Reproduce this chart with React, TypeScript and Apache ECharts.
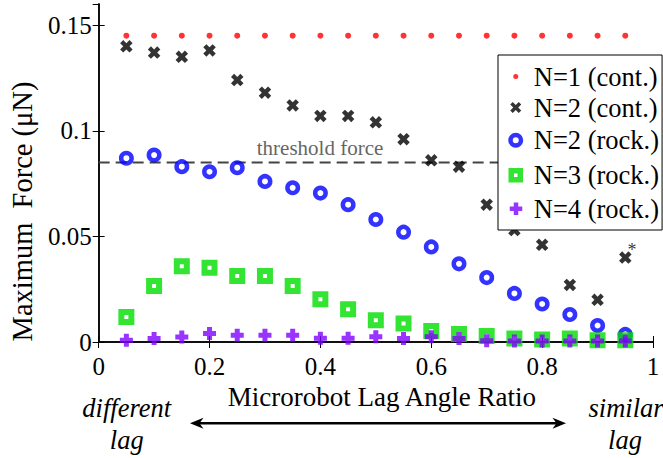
import React, { useEffect, useRef } from "react";
import * as echarts from "echarts";

const lagRatio = [0.05, 0.1, 0.15, 0.2, 0.25, 0.3, 0.35, 0.4, 0.45, 0.5, 0.55, 0.6, 0.65, 0.7, 0.75, 0.8, 0.85, 0.9, 0.95];
const n1Cont = [0.145, 0.145, 0.145, 0.145, 0.145, 0.145, 0.145, 0.145, 0.145, 0.145, 0.145, 0.145, 0.145, 0.145, 0.145, 0.145, 0.145, 0.145, 0.145];
const n2Cont = [0.140, 0.137, 0.135, 0.138, 0.124, 0.118, 0.112, 0.107, 0.107, 0.104, 0.096, 0.086, 0.083, 0.065, 0.053, 0.046, 0.027, 0.020, 0.040];
const n2Rock = [0.087, 0.0885, 0.083, 0.0806, 0.0825, 0.076, 0.073, 0.0705, 0.065, 0.058, 0.052, 0.045, 0.037, 0.0305, 0.023, 0.018, 0.013, 0.0078, 0.0036];
const n3Rock = [0.0118, 0.0265, 0.0359, 0.0351, 0.0313, 0.0313, 0.0265, 0.0202, 0.0155, 0.0103, 0.0087, 0.0052, 0.0038, 0.0028, 0.0016, 0.0012, 0.0016, 0.0008, 0.0008];
const n4Rock = [0.0008, 0.0016, 0.0024, 0.004, 0.0032, 0.0032, 0.0032, 0.0018, 0.0018, 0.0025, 0.0016, 0.0025, 0.0016, 0.0006, 0.0005, 0.0005, 0.0005, 0.0005, 0.0005];
const thresholdX = [0, 1];
const thresholdY = [0.085, 0.085];
const starIndex = 18;

const seriesNames = ["N=1 (cont.)", "N=2 (cont.)", "N=2 (rock.)", "N=3 (rock.)", "N=4 (rock.)"];
const xTicks = { min: 0, max: 1, interval: 0.2 };
const yTicks = { min: 0, max: 0.16, interval: 0.05 };

const FONT = "'Liberation Serif', 'Times New Roman', Times, serif";
const RED = "#ff0000";
const BLUE = "#0000ff";
const GREEN = "#00dd00";
const PURPLE = "#7f00ff";

const X_PATH = "path://M0,3L3,0L6,3L9,0L12,3L9,6L12,9L9,12L6,9L3,12L0,9L3,6Z";
const PLUS_PATH = "path://M4,0H9V4H13V9H9V13H4V9H0V4H4Z";

const LEG_DOT = "path://M0,0M26,26M13,10.5a2.5,2.5 0 1,1 0,5a2.5,2.5 0 1,1 0,-5z";
const LEG_X = "path://M0,0M26,26M7.5,10L10,7.5L13,10.5L16,7.5L18.5,10L15.5,13L18.5,16L16,18.5L13,15.5L10,18.5L7.5,16L10.5,13Z";
const LEG_CIRCLE = "path://M0,0M26,26M13,7.75a5.25,5.25 0 1,1 0,10.5a5.25,5.25 0 1,1 0,-10.5z";
const LEG_SQUARE = "path://M0,0M26,26M8.5,8.5h9v9h-9z";
const LEG_PLUS = "path://M0,0M26,26M11,7h4.5v4h4v4.5h-4v4h-4.5v-4h-4v-4.5h4z";

function pairs(ys: number[]) {
  return ys.map((y, i) => [lagRatio[i], y]);
}

export default function App() {
  const ref = useRef<HTMLDivElement>(null);
  useEffect(() => {
    if (!ref.current) return;
    const chart = echarts.init(ref.current, undefined, { renderer: "svg" });

    const n2ContData = n2Cont.map((y, i) =>
      i === starIndex
        ? {
            value: [lagRatio[i], y],
            label: {
              show: true,
              formatter: "*",
              position: [13, -1.3],
              align: "center",
              verticalAlign: "middle",
              fontSize: 18,
              fontFamily: FONT,
              color: "#000",
            },
          }
        : [lagRatio[i], y]
    );

    const axisLineStyle = { color: "#000", width: 1.5 };

    const textItem = (t: string, x: number, y: number, size: number, italic: boolean, fill = "#000") => ({
      type: "text",
      x,
      y,
      silent: true,
      style: {
        text: t,
        fontSize: size,
        fontFamily: FONT,
        fontStyle: italic ? "italic" : "normal",
        fill,
        align: "center",
        verticalAlign: "middle",
        textAlign: "center",
        textVerticalAlign: "middle",
      },
    });

    const arrowY = 423.3;

    chart.setOption({
      animation: false,
      backgroundColor: "#fff",
      textStyle: { fontFamily: FONT },
      grid: { left: 96, right: 10, top: 4, bottom: 116, containLabel: false },
      xAxis: [
        {
          type: "value",
          min: xTicks.min,
          max: xTicks.max,
          interval: xTicks.interval,
          position: "bottom",
          name: "Microrobot Lag Angle Ratio",
          nameLocation: "middle",
          nameGap: 38,
          nameTextStyle: { fontSize: 27, fontFamily: FONT, color: "#000", padding: [0, 0, 0, 12] },
          axisLine: { show: true, lineStyle: axisLineStyle },
          axisTick: { show: true, inside: true, length: 6, lineStyle: { color: "#000", width: 1 } },
          axisLabel: { fontSize: 25, fontFamily: FONT, color: "#000", margin: 12 },
          splitLine: { show: false },
        },
        {
          type: "value",
          min: xTicks.min,
          max: xTicks.max,
          interval: xTicks.interval,
          position: "top",
          axisLine: { show: true, lineStyle: axisLineStyle },
          axisTick: { show: true, inside: true, length: 6, lineStyle: { color: "#000", width: 1 } },
          axisLabel: { show: false },
          splitLine: { show: false },
        },
      ],
      yAxis: [
        {
          type: "value",
          min: yTicks.min,
          max: yTicks.max,
          interval: yTicks.interval,
          position: "left",
          name: "Maximum  Force (\u03bcN)",
          nameLocation: "middle",
          nameRotate: 90,
          nameGap: 58,
          nameTextStyle: { fontSize: 28.5, fontFamily: FONT, color: "#000", padding: [0, 77, 0, 0] },
          axisLine: { show: true, lineStyle: axisLineStyle },
          axisTick: { show: true, inside: true, length: 6, lineStyle: { color: "#000", width: 1 } },
          axisLabel: { fontSize: 25, fontFamily: FONT, color: "#000", margin: 7, showMaxLabel: false },
          splitLine: { show: false },
        },
        {
          type: "value",
          min: yTicks.min,
          max: yTicks.max,
          interval: yTicks.interval,
          position: "right",
          axisLine: { show: true, lineStyle: axisLineStyle },
          axisTick: { show: true, inside: true, length: 6, lineStyle: { color: "#000", width: 1 } },
          axisLabel: { show: false },
          splitLine: { show: false },
        },
      ],
      legend: {
        orient: "vertical",
        left: 498,
        top: 55,
        padding: [8, 3, 8, 2],
        itemWidth: 26,
        itemHeight: 26,
        itemGap: 4,
        backgroundColor: "#fff",
        borderColor: "#000",
        borderWidth: 1,
        borderRadius: 0,
        textStyle: { fontSize: 26.5, fontFamily: FONT, color: "#000", lineHeight: 26 },
        selectedMode: false,
        data: [
          { name: seriesNames[0], icon: LEG_DOT, itemStyle: { color: RED, borderWidth: 0 } },
          { name: seriesNames[1], icon: LEG_X, itemStyle: { color: "#000", borderWidth: 0 } },
          { name: seriesNames[2], icon: LEG_CIRCLE, itemStyle: { color: "rgba(255,255,255,0)", borderColor: BLUE, borderWidth: 4.5 } },
          { name: seriesNames[3], icon: LEG_SQUARE, itemStyle: { color: "rgba(255,255,255,0)", borderColor: GREEN, borderWidth: 5.5 } },
          { name: seriesNames[4], icon: LEG_PLUS, itemStyle: { color: PURPLE, borderWidth: 0 } },
        ],
      },
      series: [
        {
          name: "threshold",
          type: "line",
          data: thresholdX.map((x, i) => [x, thresholdY[i]]),
          showSymbol: false,
          symbol: "none",
          silent: true,
          lineStyle: { color: "#444", width: 2, type: [11, 6] },
          z: 1,
        },
        {
          name: seriesNames[0],
          type: "scatter",
          data: pairs(n1Cont),
          symbol: "circle",
          symbolSize: 6,
          itemStyle: { color: RED, borderWidth: 0 },
          z: 2,
        },
        {
          name: seriesNames[1],
          type: "scatter",
          data: n2ContData,
          symbol: X_PATH,
          symbolSize: 12.5,
          itemStyle: { color: "#000", borderWidth: 0 },
          z: 2,
        },
        {
          name: seriesNames[2],
          type: "scatter",
          data: pairs(n2Rock),
          symbol: "circle",
          symbolSize: 10.5,
          itemStyle: { color: "rgba(255,255,255,0)", borderColor: BLUE, borderWidth: 4.5 },
          z: 2,
        },
        {
          name: seriesNames[3],
          type: "scatter",
          data: pairs(n3Rock),
          symbol: "rect",
          symbolSize: 10,
          itemStyle: { color: "rgba(255,255,255,0)", borderColor: GREEN, borderWidth: 6 },
          z: 2,
        },
        {
          name: seriesNames[4],
          type: "scatter",
          data: pairs(n4Rock),
          symbol: PLUS_PATH,
          symbolSize: 13,
          itemStyle: { color: PURPLE, borderWidth: 0 },
          z: 2,
        },
      ],
      graphic: [
        textItem("threshold force", 320, 148, 21, false, "#666"),
        textItem("different", 126.7, 408, 26.5, true),
        textItem("lag", 126.7, 440, 26.5, true),
        textItem("similar", 626, 408, 26.5, true),
        textItem("lag", 625, 440, 26.5, true),
        {
          type: "line",
          silent: true,
          shape: { x1: 198, y1: arrowY, x2: 557, y2: arrowY },
          style: { stroke: "#000", lineWidth: 2.5 },
        },
        {
          type: "polygon",
          silent: true,
          shape: { points: [[190, arrowY], [203.5, arrowY - 5.5], [199.5, arrowY], [203.5, arrowY + 5.5]] },
          style: { fill: "#000" },
        },
        {
          type: "polygon",
          silent: true,
          shape: { points: [[566, arrowY], [552.5, arrowY - 5.5], [556.5, arrowY], [552.5, arrowY + 5.5]] },
          style: { fill: "#000" },
        },
      ],
    });

    return () => chart.dispose();
  }, []);

  return (
    <div
      ref={ref}
      style={{ position: "fixed", left: 0, top: 0, width: 663, height: 458, background: "#fff" }}
    />
  );
}
